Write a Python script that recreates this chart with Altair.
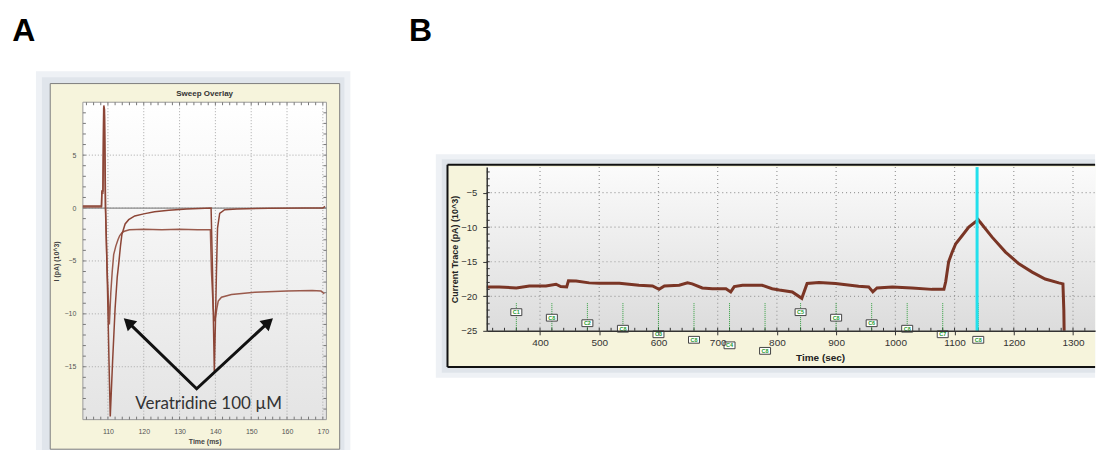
import altair as alt
import pandas as pd

# ---------------- Panel A : sweep overlay ----------------
a_sweep1_t = [103.0, 108.2, 108.3, 108.6, 108.85, 109.05, 109.35, 109.9, 110.3, 110.65, 111.3, 112.0, 112.6,
              113.0, 113.5, 113.9, 114.8, 115.8, 117.5, 120.0, 123.0, 127.0, 132.0, 138.8, 139.2, 139.7,
              140.0, 140.3, 140.6, 141.2, 142.6, 146.0, 155.0, 165.0, 170.0, 170.6]
a_sweep1_v = [0.2, 0.2, 1.6, 1.6, 9.7, 9.3, 0.0, -8.0, -14.5, -19.7, -14.5, -9.5, -6.5,
              -5.3, -3.6, -2.5, -1.5, -1.1, -0.75, -0.55, -0.35, -0.2, -0.1, 0.0, -6.0, -15.4,
              -11.0, -6.0, -1.9, -0.5, -0.16, -0.08, -0.03, 0.0, 0.0, 0.15]
a_sweep2_t = [103.0, 108.2, 108.3, 108.6, 108.8, 109.0, 109.3, 109.8, 110.4, 110.8, 111.2, 111.6, 112.2,
              112.8, 113.3, 114.0, 114.6, 116.0, 120.0, 125.0, 130.0, 135.0, 138.6, 138.9, 139.4, 139.8,
              140.1, 140.4, 140.8, 141.7, 144.5, 151.0, 160.0, 167.0, 169.5, 170.4]
a_sweep2_v = [0.1, 0.1, 1.4, 1.4, 9.5, 8.8, 0.0, -6.0, -11.0, -8.0, -6.0, -4.4, -3.6,
              -3.0, -2.6, -2.3, -2.2, -2.05, -2.0, -2.05, -2.0, -2.05, -2.05, -6.0, -9.5, -10.7,
              -10.2, -9.5, -8.8, -8.43, -8.18, -7.95, -7.85, -7.8, -7.85, -8.1]
a_xticks = [110, 120, 130, 140, 150, 160, 170]
a_yticks = [5, 0, -5, -10, -15]
a_xminor = list(range(104, 171, 2))
a_yminor = list(range(-19, 10))
arrow_t = [116.04, 134.77, 154.42]
arrow_v = [-10.92, -17.08, -10.92]
head_t = [116.04, 154.42]
head_v = [-10.92, -10.92]
head_angle = [313, 48]
note_t = [138.1]
note_v = [-18.56]
note_text = ["Veratridine  100 \u00b5M"]

# ---------------- Panel B : current trace ----------------
b_t = [310, 331, 360, 382, 410, 427, 435, 445, 448, 461, 483, 500, 534, 567, 590, 601, 610, 635, 649,
       657, 674, 691, 714, 722, 728, 742, 775, 792, 804, 826, 842, 851, 871, 899, 938, 955, 962, 969,
       995, 1028, 1062, 1082, 1085, 1090, 1096, 1102, 1113, 1124, 1135, 1140, 1143, 1163, 1186, 1208,
       1231, 1253, 1276, 1283, 1284.5, 1285]
b_v = [-18.64, -18.64, -18.79, -18.5, -18.5, -18.25, -18.6, -18.64, -17.77, -17.8, -18.06, -18.1, -18.1,
       -18.4, -18.5, -19.0, -18.5, -18.4, -18.06, -18.2, -18.79, -18.9, -18.9, -19.37, -18.6, -18.4,
       -18.4, -18.9, -19.1, -19.37, -20.3, -18.15, -18.0, -18.15, -18.54, -18.64, -19.37, -18.8,
       -18.64, -18.8, -19.0, -19.0, -17.9, -15.0, -13.6, -12.4, -11.2, -9.97, -9.25, -8.9, -9.25,
       -11.4, -13.6, -15.26, -16.5, -17.5, -18.06, -18.2, -22.0, -25.0]
marker_t = [360, 420, 480, 540, 600, 660, 720, 780, 840, 900, 960, 1020, 1080, 1140]
marker_y = [-22.3, -23.1, -23.9, -24.7, -25.5, -26.3, -27.1, -27.9, -22.3, -23.1, -23.9, -24.7, -25.5, -26.3]
marker_lbl = ["C1", "C8", "C2", "C8", "C3", "C8", "C4", "C8", "C5", "C8", "C6", "C8", "C7", "C8"]
cursor_t = [1138]
b_xticks = [400, 500, 600, 700, 800, 900, 1000, 1100, 1200, 1300]
b_yticks = [-5, -10, -15, -20, -25]
b_xminor = list(range(320, 1338, 20))
b_yminor = list(range(-24, -1))

FONT = "Liberation Sans"
AW, AH = 244, 318
BW, BH = 609.5, 164
one = pd.DataFrame({"k": [0]})


def deco(x1, x2, y1, y2, **kw):
    return alt.Chart(one).mark_rect(**kw).encode(
        x=alt.value(x1), x2=alt.value(x2), y=alt.value(y1), y2=alt.value(y2))


def hline(x1, x2, y, **kw):
    return alt.Chart(one).mark_rule(**kw).encode(x=alt.value(x1), x2=alt.value(x2), y=alt.value(y))


def vline(x, y1, y2, **kw):
    return alt.Chart(one).mark_rule(**kw).encode(x=alt.value(x), y=alt.value(y1), y2=alt.value(y2))


def label(txt, x, y, **kw):
    return alt.Chart(pd.DataFrame({"s": [txt]})).mark_text(**kw).encode(
        x=alt.value(x), y=alt.value(y), text="s:N")


def grad(c1, c2):
    return alt.Gradient(gradient="linear", x1=0, x2=0, y1=0, y2=1,
                        stops=[alt.GradientStop(color=c1, offset=0), alt.GradientStop(color=c2, offset=1)])


# ---------- Panel A ----------
xsA = alt.Scale(domain=[103, 171], nice=False, zero=False)
ysA = alt.Scale(domain=[-20, 10], nice=False, zero=False)

s1 = pd.DataFrame({"t": a_sweep1_t, "v": a_sweep1_v})
s2 = pd.DataFrame({"t": a_sweep2_t, "v": a_sweep2_v})
axA_x = alt.Axis(values=a_xticks, title="Time (ms)", labelFontSize=7, labelColor="#555", labelFont=FONT,
                 titleFont=FONT, titleFontSize=7, titleFontWeight="bold", titleColor="#444",
                 ticks=False, domain=False, grid=False, labelPadding=8, titlePadding=3, zindex=1)
axA_y = alt.Axis(values=a_yticks, title="I (pA) (10^3)", labelFontSize=7, labelColor="#555", labelFont=FONT,
                 titleFont=FONT, titleFontSize=7, titleFontWeight="bold", titleColor="#444",
                 ticks=False, domain=False, grid=False, labelPadding=7, titleX=-26, titleY=AH / 2,
                 titleBaseline="middle", titleAlign="center", titleAngle=270, zindex=1)
XA = alt.X("t:Q", scale=xsA, axis=axA_x)
YA = alt.Y("v:Q", scale=ysA, axis=axA_y)

A_layers = [
    deco(-74.7, -73.7, -93.7, -92.7, fill="white"),
    deco(-47, 268, -31, 348.3, fill="#eef1f5"),
    deco(-41, 262, -25, 348.3, fill="#e0e5eb"),
    deco(-32.7, 257.3, -18.7, 347.6, fill="#f6f4dc", stroke="#7d7d7d", strokeWidth=1),
    deco(0, AW, 0, AH, fill=grad("#ffffff", "#e4e4e4"), stroke="#9a9a9a", strokeWidth=1),
    alt.Chart(pd.DataFrame({"t": a_xticks})).mark_rule(color="#a8a8a8", strokeDash=[1, 2], strokeWidth=1).encode(
        x=XA, y=alt.value(0), y2=alt.value(AH)),
    alt.Chart(pd.DataFrame({"v": a_yticks})).mark_rule(color="#a8a8a8", strokeDash=[1, 2], strokeWidth=1).encode(
        y=YA, x=alt.value(0), x2=alt.value(AW)),
    alt.Chart(pd.DataFrame({"t": a_xminor})).mark_rule(color="#777").encode(
        x=XA, y=alt.value(AH), y2=alt.value(AH - 3)),
    alt.Chart(pd.DataFrame({"t": a_xminor})).mark_rule(color="#777").encode(
        x=XA, y=alt.value(0), y2=alt.value(3)),
    alt.Chart(pd.DataFrame({"v": a_yminor})).mark_rule(color="#777").encode(
        y=YA, x=alt.value(0), x2=alt.value(3)),
    alt.Chart(pd.DataFrame({"v": a_yminor})).mark_rule(color="#777").encode(
        y=YA, x=alt.value(AW), x2=alt.value(AW - 3)),
    alt.Chart(pd.DataFrame({"v": [0]})).mark_rule(color="#8a8a8a", strokeWidth=1.2).encode(
        y=YA, x=alt.value(0), x2=alt.value(AW)),
    alt.Chart(s2).mark_line(color="#9a5a4c", strokeWidth=1.5).encode(x=XA, y=YA, order="t:Q"),
    alt.Chart(s1).mark_line(color="#8c4536", strokeWidth=1.5).encode(x=XA, y=YA, order="t:Q"),
    alt.Chart(pd.DataFrame({"t": arrow_t, "v": arrow_v, "o": [0, 1, 2]})).mark_line(
        color="#111", strokeWidth=3).encode(x=XA, y=YA, order="o:Q"),
    alt.Chart(pd.DataFrame({"t": head_t, "v": head_v, "a": head_angle})).mark_point(
        shape="triangle", filled=True, color="#111", size=190, opacity=1).encode(
        x=XA, y=YA, angle=alt.Angle("a:Q", scale=None)),
    alt.Chart(pd.DataFrame({"t": note_t, "v": note_v, "s": note_text})).mark_text(
        font="Lato", fontSize=17, color="#333", align="center", baseline="middle").encode(
        x=XA, y=YA, text="s:N"),
    label("Sweep Overlay", AW / 2, -8.7, font=FONT, fontSize=8, fontWeight="bold", color="#333",
          align="center", baseline="middle"),
    label("A", -59.2, -61.7, font=FONT, fontSize=32, fontWeight="bold", color="#000",
          align="center", baseline="alphabetic"),
]
panelA = alt.layer(*A_layers).properties(width=AW, height=AH, view=alt.ViewBackground(stroke=None))

# ---------- Panel B ----------
xsB = alt.Scale(domain=[310, 310 + BW / 0.5933], nice=False, zero=False)
ysB = alt.Scale(domain=[-25, -1.3], nice=False, zero=False)
tr = pd.DataFrame({"t": b_t, "v": b_v})
mk = pd.DataFrame({"t": marker_t, "y": marker_y, "lbl": marker_lbl})

axB_x = alt.Axis(values=b_xticks, format="d", title="Time (sec)", labelFontSize=10, labelColor="#333",
                 labelFont=FONT, titleFont=FONT, titleFontSize=10, titleFontWeight="bold", titleColor="#222",
                 ticks=True, tickSize=4, tickColor="#333", domain=True, domainColor="#333", domainWidth=1.5,
                 grid=False, labelPadding=2.5, titleX=334, titleY=26.3, titleBaseline="middle",
                 titleAlign="center", zindex=1)
axB_y = alt.Axis(values=b_yticks, title="Current Trace (pA) (10^3)", labelFontSize=9.5, labelColor="#333",
                 labelFont=FONT, titleFont=FONT, titleFontSize=9, titleFontWeight="bold", titleColor="#222",
                 ticks=True, tickSize=4, tickColor="#333", domain=True, domainColor="#333", domainWidth=1.5,
                 grid=False, labelPadding=6, titleX=-32.3, titleY=BH / 2, titleBaseline="middle",
                 titleAlign="center", titleAngle=270, zindex=1)
XB = alt.X("t:Q", scale=xsB, axis=axB_x)
YB = alt.Y("v:Q", scale=ysB, axis=axB_y)
YBm = alt.Y("y:Q", scale=ysB, axis=axB_y)

B_layers = [
    deco(-51, BW, -13, 211, fill="#eef1f5"),
    deco(-45, BW, -8, 206, fill="#dfe4ea"),
    deco(-39.3, BW, -2.4, 200.3, fill="#f6f4dc"),
    vline(-39.3, -2.4, 200.3, color="#111", strokeWidth=2),
    hline(-39.3, BW, -2.4, color="#111", strokeWidth=2),
    hline(-39.3, BW, 200.3, color="#111", strokeWidth=2),
    deco(0, BW, 0, BH, fill=grad("#fbfbfb", "#dcdcdc")),
    alt.Chart(pd.DataFrame({"t": b_xticks})).mark_rule(color="#9a9a9a", strokeDash=[1, 3], strokeWidth=1.2).encode(
        x=XB, y=alt.value(0), y2=alt.value(BH)),
    alt.Chart(pd.DataFrame({"v": b_yticks[:-1]})).mark_rule(color="#9a9a9a", strokeDash=[1, 3], strokeWidth=1.2).encode(
        y=YB, x=alt.value(0), x2=alt.value(BW)),
    alt.Chart(pd.DataFrame({"t": b_xminor})).mark_rule(color="#333").encode(
        x=XB, y=alt.value(BH), y2=alt.value(BH - 3)),
    alt.Chart(pd.DataFrame({"v": b_yminor})).mark_rule(color="#333").encode(
        y=YB, x=alt.value(0), x2=alt.value(3)),
    alt.Chart(mk).mark_rule(color="#2f9e3c", strokeDash=[1, 1], strokeWidth=1).encode(
        x=XB, y=alt.datum(-21, scale=ysB, axis=axB_y), y2=alt.datum(-25)),
    alt.Chart(tr).mark_line(color="#7a3525", strokeWidth=3).encode(x=XB, y=YB, order="t:Q"),
    alt.Chart(pd.DataFrame({"t": cursor_t})).mark_rule(color="#22e0ec", strokeWidth=3).encode(
        x=XB, y=alt.value(0), y2=alt.value(BH)),
    alt.Chart(mk).mark_point(shape="M-1,-0.62L1,-0.62L1,0.62L-1,0.62Z", size=121, filled=True,
                             fill="white", stroke="#444", strokeWidth=1, opacity=1).encode(x=XB, y=YBm),
    alt.Chart(mk).mark_text(font=FONT, fontSize=5.5, fontWeight="bold", color="#1f9a2f",
                            align="center", baseline="middle").encode(x=XB, y=YBm, text="lbl:N"),
]
panelB = alt.layer(*B_layers).properties(width=BW, height=BH, view=alt.ViewBackground(stroke=None))

spacerB = label("B", -66.3, -61.7, font=FONT, fontSize=32, fontWeight="bold", color="#000",
                align="center", baseline="alphabetic").properties(
    width=BW, height=65, view=alt.ViewBackground(stroke=None))

right = alt.vconcat(spacerB, panelB, spacing=0, bounds="flush")
chart = alt.hconcat(panelA, right, spacing=160.6, bounds="flush").properties(
    padding=0, background="white").configure_view(stroke=None)

chart.save("out.html", embed_options={"renderer": "svg", "actions": False})
